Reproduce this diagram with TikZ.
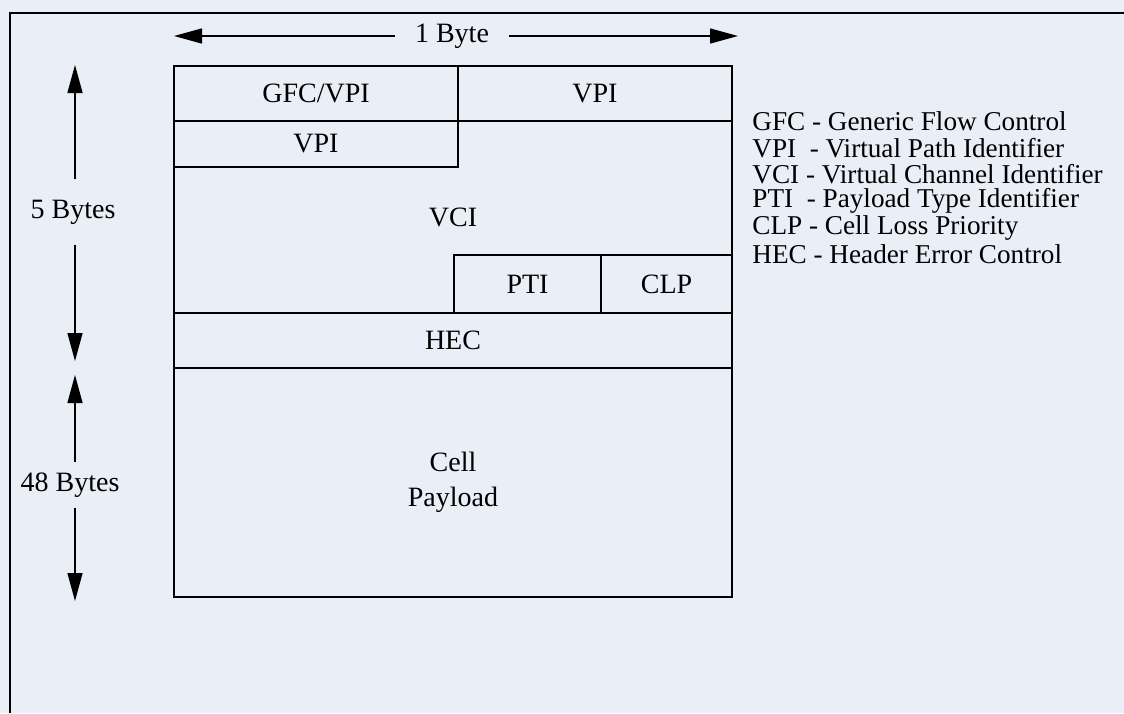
\documentclass[tikz,border=0pt]{standalone}
\usepackage{fontspec}
\setmainfont{Liberation Serif}
\usetikzlibrary{arrows.meta, positioning}

\definecolor{paper}{RGB}{233,238,247}

\begin{document}
\begin{tikzpicture}[
		x=0.5pt, y=-0.5pt,
		font=\fontsize{14}{17.5}\selectfont,
		field/.style={rectangle, draw, line width=0.9pt, inner sep=0pt, outer sep=0pt, anchor=north west, align=center},
		label/.style={inner xsep=2pt, inner ysep=0pt, align=center},
		legend/.style={anchor=west, inner sep=0pt, font=\fontsize{13.6}{15}\selectfont},
		dim/.style={-{Triangle[length=14pt, width=7.5pt]}, line width=0.7pt}
		]
		\useasboundingbox (0,0) rectangle (1124,713);
		\fill[paper] (0,0) rectangle (1124,713);
		% frame, only its left and top side show
		\coordinate (frame bl) at (10,713);
		\coordinate (frame tr) at (1124,13);
		\draw[line width=0.8pt] (frame bl) |- (frame tr);

		% header and payload
		\node at (174,66) [name=header, field, minimum width=279pt, minimum height=123.5pt] {};
		\node at (174,66) [name=gfc, field, minimum width=142pt, minimum height=27.5pt] {GFC/VPI};
		\node at (458,66) [name=vpi top, field, minimum width=137pt, minimum height=27.5pt] {VPI};
		\node at (174,121) [name=vpi low, field, minimum width=142pt, minimum height=23pt] {VPI};
		\node at (453,217) [name=vci] {VCI};
		\node at (454,255) [name=pti, field, minimum width=73.5pt, minimum height=29pt] {PTI};
		\node at (601,255) [name=clp, field, minimum width=65.5pt, minimum height=29pt] {CLP};
		\node at (174,313) [name=hec, field, minimum width=279pt, minimum height=27.5pt] {HEC};
		\node at (174,368) [name=payload, field, minimum width=279pt, minimum height=114.5pt] {Cell\\Payload};

		% dimension arrows
		\coordinate (byte left) at (174,36);
		\coordinate (byte right) at (738,36);
		\node at (452,36) [name=one byte, label, inner xsep=10pt] {1 Byte};
		\draw[dim] (one byte.west) -- (byte left);
		\draw[dim] (one byte.east) -- (byte right);

		\coordinate (hdr top) at (75,65);
		\coordinate (hdr bottom) at (75,361);
		\node at (73,212) [name=five bytes, label, inner ysep=10pt] {5 Bytes};
		\draw[dim] (five bytes.north -| hdr top) -- (hdr top);
		\draw[dim] (five bytes.south -| hdr bottom) -- (hdr bottom);

		\coordinate (pl top) at (75,375);
		\coordinate (pl bottom) at (75,601);
		\node at (70,485) [name=forty bytes, label, inner ysep=5pt] {48 Bytes};
		\draw[dim] (forty bytes.north -| pl top) -- (pl top);
		\draw[dim] (forty bytes.south -| pl bottom) -- (pl bottom);

		% legend
		\node at (752,121) [name=leg gfc, legend] {GFC - Generic Flow Control};
		\node at (752,148) [name=leg vpi, legend] {VPI\ \ - Virtual Path Identifier};
		\node at (752,174) [name=leg vci, legend] {VCI\ - Virtual Channel Identifier};
		\node at (752,201) [name=leg pti, legend] {PTI\ \ - Payload Type Identifier};
		\node at (752,228) [name=leg clp, legend] {CLP - Cell Loss Priority};
		\node at (752,254) [name=leg hec, legend] {HEC - Header Error Control};
	\end{tikzpicture}
\end{document}
